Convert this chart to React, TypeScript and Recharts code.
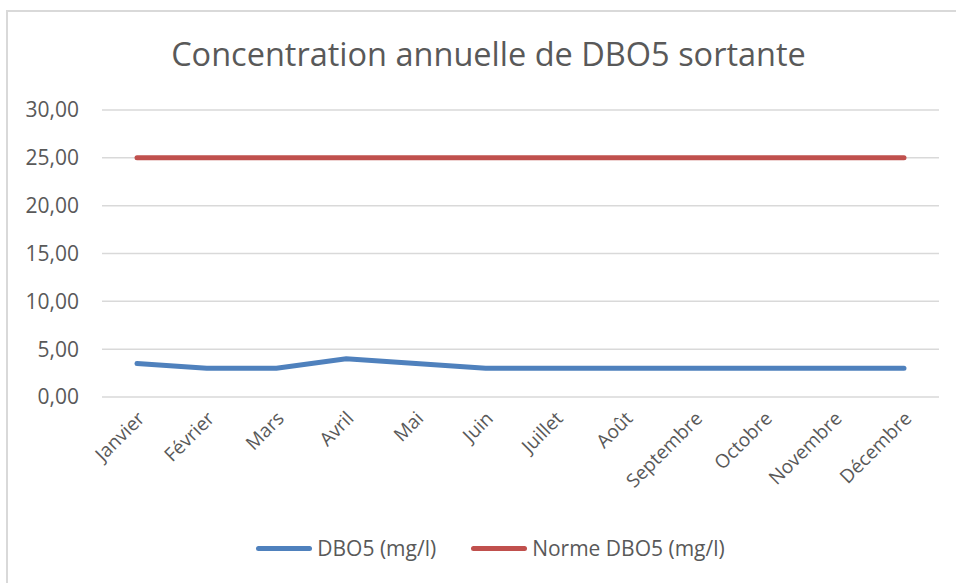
import { LineChart, Line, XAxis, YAxis, CartesianGrid, Legend } from 'recharts'

const MONTHS = ['Janvier', 'Février', 'Mars', 'Avril', 'Mai', 'Juin', 'Juillet', 'Août', 'Septembre', 'Octobre', 'Novembre', 'Décembre']
const DBO5 = [3.5, 3.0, 3.0, 4.0, 3.5, 3.0, 3.0, 3.0, 3.0, 3.0, 3.0, 3.0]
const NORME = [25, 25, 25, 25, 25, 25, 25, 25, 25, 25, 25, 25]
const Y_TICKS = [0, 5, 10, 15, 20, 25, 30]

const data = MONTHS.map((m, i) => ({ month: m, dbo5: DBO5[i], norme: NORME[i] }))

const FONT = '"Open Sans", sans-serif'
const TEXT = '#595959'
const BLUE = '#4F81BD'
const RED = '#C0504D'

const fmt = (v: number) => v.toFixed(2).replace('.', ',')

const MonthTick = ({ x, y, payload }: { x?: number; y?: number; payload?: { value: string } }) => (
  <g transform={`translate(${(x ?? 0) + 4},${(y ?? 0) + 10})`}>
    <text transform="rotate(-45)" textAnchor="end" dy="0.35em" fontSize={19} fill={TEXT} fontFamily={FONT}>
      {payload?.value}
    </text>
  </g>
)

const LegendBox = () => (
  <div style={{ display: 'flex', justifyContent: 'center', alignItems: 'center', gap: 35, paddingTop: 7, paddingLeft: 20, fontFamily: FONT, fontSize: 21, color: TEXT }}>
    {[{ name: 'DBO5 (mg/l)', color: BLUE }, { name: 'Norme DBO5 (mg/l)', color: RED }].map((s) => (
      <div key={s.name} style={{ display: 'flex', alignItems: 'center', gap: 5 }}>
        <div style={{ width: 56, height: 5, borderRadius: 3, background: s.color }} />
        <span>{s.name}</span>
      </div>
    ))}
  </div>
)

export default function App() {
  return (
    <div style={{ position: 'absolute', left: 0, top: 0, width: 956, height: 583, background: '#fff', overflow: 'hidden' }}>
      <div style={{ position: 'absolute', left: 6, top: 10, width: 980, height: 620, border: '2px solid #d9d9d9' }} />
      <div style={{ position: 'absolute', left: 0, top: 31, width: 977, textAlign: 'center', fontFamily: FONT, fontSize: 32.5, color: TEXT }}>
        Concentration annuelle de DBO5 sortante
      </div>
      <div style={{ position: 'absolute', left: 0, top: 0 }}>
        <LineChart width={956} height={583} data={data} margin={{ top: 110, right: 17, left: 22, bottom: 10 }}>
          <CartesianGrid vertical={false} stroke="#d9d9d9" strokeWidth={1.5} />
          <XAxis dataKey="month" axisLine={false} tickLine={false} interval={0} height={130} padding={{ left: 35, right: 35 }} tick={<MonthTick />} />
          <YAxis width={80} domain={[0, 30]} ticks={Y_TICKS} tickFormatter={fmt} axisLine={false} tickLine={false}
            tick={{ fontSize: 21, fill: TEXT, fontFamily: FONT }} tickMargin={17} />
          <Legend verticalAlign="bottom" height={46} content={<LegendBox />} />
          <Line type="linear" dataKey="dbo5" name="DBO5 (mg/l)" stroke={BLUE} strokeWidth={5} dot={false} strokeLinecap="round" isAnimationActive={false} />
          <Line type="linear" dataKey="norme" name="Norme DBO5 (mg/l)" stroke={RED} strokeWidth={5} dot={false} strokeLinecap="round" isAnimationActive={false} />
        </LineChart>
      </div>
    </div>
  )
}
